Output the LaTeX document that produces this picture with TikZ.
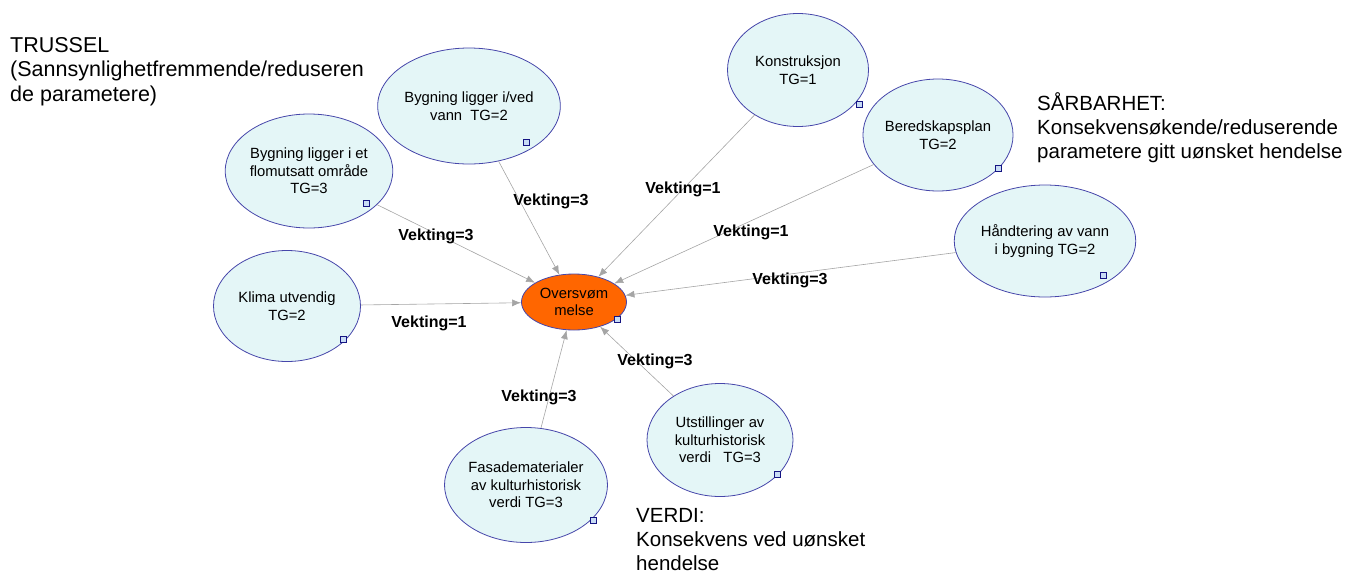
\documentclass[tikz,border=0pt]{standalone}
\usepackage{fontspec}
\setmainfont{Liberation Sans}
\usetikzlibrary{arrows.meta,shapes.geometric}
\definecolor{nodefill}{RGB}{228,246,247}
\definecolor{nodeline}{RGB}{70,70,170}
\definecolor{hubfill}{RGB}{255,102,0}
\definecolor{edgegray}{RGB}{165,165,165}
\definecolor{markline}{RGB}{20,20,130}
\definecolor{markfill}{RGB}{200,220,245}
\begin{document}
\begin{tikzpicture}[x=1pt,y=-1pt,
  factor/.style={ellipse,draw=nodeline,fill=nodefill,line width=0.8pt,inner sep=0pt,
    align=center,font=\fontsize{14.8}{17.5}\selectfont},
  hubnode/.style={ellipse,draw=nodeline,fill=hubfill,line width=0.8pt,inner sep=0pt,
    align=center,font=\fontsize{14.8}{17.5}\selectfont},
  marker/.style={rectangle,draw=markline,fill=markfill,line width=0.9pt,inner sep=0pt,
    minimum width=6pt,minimum height=6pt},
  edge/.style={draw=edgegray,line width=0.6pt,-{Latex[length=9pt,width=7pt]}},
  weight/.style={font=\fontsize{16}{18}\bfseries\selectfont,inner sep=0pt},
  sidetext/.style={anchor=north west,align=left,inner sep=0pt,font=\fontsize{20.5}{24}\selectfont}]
\useasboundingbox (0,0) rectangle (1345,571);

% side texts
\node[sidetext,font=\fontsize{21.5}{24.5}\selectfont] (trussel) at (10,37) {TRUSSEL\\(Sannsynlighetfremmende/reduseren\\de parametere)};
\node[sidetext,font=\fontsize{20.5}{24.3}\selectfont] (sarbar) at (1037,92) {SÅRBARHET:\\Konsekvensøkende/reduserende\\parametere gitt uønsket hendelse};
\node[sidetext] (verdi) at (636,508) {VERDI:\\Konsekvens ved uønsket\\hendelse};

% nodes
\node[hubnode,minimum width=105pt,minimum height=56pt] (hub) at (574,302) {Oversvøm\\melse};
\node[factor,minimum width=146pt,minimum height=114pt] (flom) at (309,171) {Bygning ligger i et\\flomutsatt område\\TG=3};
\node[factor,minimum width=146pt,minimum height=116pt] (vann) at (469,106) {Bygning ligger i/ved\\vann~~TG=2};
\node[factor,minimum width=141pt,minimum height=113pt] (konst) at (798,70) {Konstruksjon\\TG=1};
\node[factor,minimum width=141pt,minimum height=112pt] (bered) at (938,135) {Beredskapsplan\\TG=2};
\node[factor,minimum width=146pt,minimum height=112pt] (hand) at (1045,241) {Håndtering av vann\\i bygning TG=2};
\node[factor,minimum width=147pt,minimum height=111pt] (klima) at (287,306) {Klima utvendig\\TG=2};
\node[factor,minimum width=148pt,minimum height=115pt] (fasade) at (526,485) {Fasadematerialer\\av kulturhistorisk\\verdi TG=3};
\node[factor,minimum width=146pt,minimum height=113pt] (utst) at (720,440) {Utstillinger av\\kulturhistorisk\\verdi~~~TG=3};

% markers
\node[marker] (mhub) at (617,319) {};
\node[marker] (mflom) at (366,203) {};
\node[marker] (mvann) at (526,142) {};
\node[marker] (mkonst) at (859,104) {};
\node[marker] (mbered) at (998,168) {};
\node[marker] (mhand) at (1103,275) {};
\node[marker] (mklima) at (343,339) {};
\node[marker] (mfasade) at (593,520) {};
\node[marker] (mutst) at (777,474) {};

% connectors
\draw[edge] (flom) -- (hub);
\draw[edge] (vann) -- (hub);
\draw[edge] (konst) -- (hub);
\draw[edge] (bered) -- (hub);
\draw[edge] (hand) -- (hub);
\draw[edge] (klima) -- (hub);
\draw[edge] (fasade) -- (hub);
\draw[edge] (utst) -- (hub);

% weights
\node[weight] (wvann) at (551,201) {Vekting=3};
\node[weight] (wkonst) at (683,189) {Vekting=1};
\node[weight] (wbered) at (751,232) {Vekting=1};
\node[weight] (whand) at (790,280) {Vekting=3};
\node[weight] (wflom) at (436,236) {Vekting=3};
\node[weight] (wklima) at (429,323) {Vekting=1};
\node[weight] (wfasade) at (539,397) {Vekting=3};
\node[weight] (wutst) at (655,361) {Vekting=3};
\end{tikzpicture}
\end{document}
